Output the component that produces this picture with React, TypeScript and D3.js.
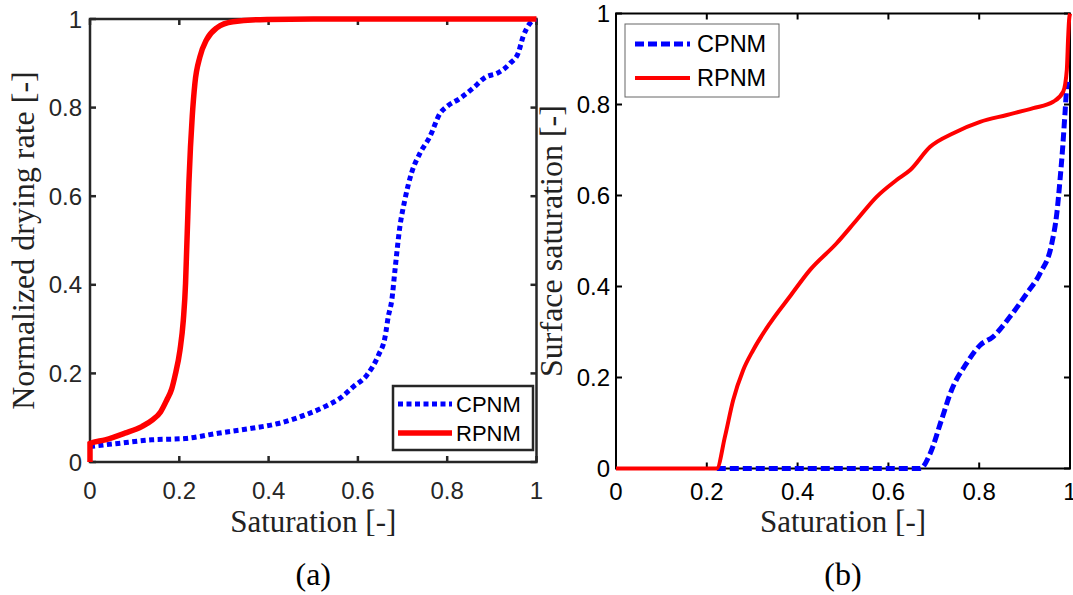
import React from 'react';
import * as d3 from 'd3';

// tick values shared by both panels
const tickValues = [0, 0.2, 0.4, 0.6, 0.8, 1];
const tickLabels = ['0', '0.2', '0.4', '0.6', '0.8', '1'];

// (a) normalized drying rate vs saturation
const rateCpnmS = [0, 0.063, 0.138, 0.213, 0.287, 0.362, 0.422, 0.4815, 0.526, 0.56, 0.59, 0.62, 0.646, 0.661, 0.668, 0.676, 0.683, 0.694, 0.705, 0.72, 0.739, 0.761, 0.784, 0.799, 0.829, 0.858, 0.888, 0.911, 0.941, 0.959, 0.97, 0.985, 1];
const rateCpnmV = [0.035, 0.042, 0.05, 0.053, 0.065, 0.076, 0.087, 0.106, 0.125, 0.144, 0.17, 0.196, 0.241, 0.283, 0.328, 0.366, 0.433, 0.531, 0.591, 0.652, 0.697, 0.734, 0.787, 0.802, 0.821, 0.844, 0.87, 0.877, 0.9, 0.923, 0.96, 0.99, 1];
const rateRpnmS = [0, 0, 0.034, 0.078, 0.116, 0.14, 0.158, 0.172, 0.183, 0.19, 0.2016, 0.209, 0.214, 0.2165, 0.219, 0.2215, 0.225, 0.229, 0.235, 0.246, 0.261, 0.284, 0.32, 0.396, 0.5, 0.7, 1];
const rateRpnmV = [0, 0.042, 0.05, 0.065, 0.08, 0.095, 0.113, 0.14, 0.165, 0.193, 0.253, 0.32, 0.403, 0.479, 0.554, 0.63, 0.71, 0.78, 0.855, 0.914, 0.953, 0.98, 0.994, 0.999, 1, 1, 1];

// (b) surface saturation vs saturation
const surfCpnmS = [0.222, 0.67, 0.692, 0.717, 0.739, 0.772, 0.802, 0.831, 0.868, 0.905, 0.934, 0.96, 0.971, 0.978, 0.984, 0.989, 0.993, 0.995];
const surfCpnmV = [0, 0, 0.033, 0.107, 0.172, 0.231, 0.271, 0.29, 0.334, 0.385, 0.429, 0.495, 0.561, 0.634, 0.707, 0.781, 0.839, 0.85];
const surfRpnmS = [0, 0.207, 0.222, 0.24, 0.258, 0.28, 0.302, 0.339, 0.383, 0.427, 0.486, 0.53, 0.574, 0.618, 0.648, 0.692, 0.743, 0.802, 0.861, 0.919, 0.963, 0.985, 0.993, 0.996, 0.998, 1];
const surfRpnmV = [0, 0, 0, 0.07, 0.15, 0.216, 0.26, 0.319, 0.378, 0.436, 0.495, 0.546, 0.597, 0.634, 0.656, 0.707, 0.737, 0.762, 0.777, 0.792, 0.806, 0.828, 0.876, 0.949, 0.986, 1];

const SANS = '"Liberation Sans", Arial, sans-serif';
const SERIF = '"Liberation Serif", "Times New Roman", serif';
const BLUE = '#0000ff';
const RED = '#ff0000';

const zip = (s, v) => s.map((d, i) => [d, v[i]]);

const Panel = (props) => {
    const { left, right, top, bottom, axisColor, axisWidth, series, yLabel, yLabelX, tickLabelGap, xTickBase, legend, caption } = props;
    const x = d3.scaleLinear().domain([0, 1]).range([left, right]);
    const y = d3.scaleLinear().domain([0, 1]).range([bottom, top]);
    const path = d3.line().x((d) => x(d[0])).y((d) => y(d[1])).curve(d3.curveMonotoneX);
    const tl = 6;
    const cx = (left + right) / 2;

    return (
        <g>
            <rect x={left} y={top} width={right - left} height={bottom - top} fill='none' stroke={axisColor} strokeWidth={axisWidth} />
            {tickValues.map((t, i) => (
                <g key={'t' + i}>
                    <line x1={x(t)} x2={x(t)} y1={bottom} y2={bottom - tl} stroke={axisColor} strokeWidth={axisWidth} />
                    <line x1={x(t)} x2={x(t)} y1={top} y2={top + tl} stroke={axisColor} strokeWidth={axisWidth} />
                    <line x1={left} x2={left + tl} y1={y(t)} y2={y(t)} stroke={axisColor} strokeWidth={axisWidth} />
                    <line x1={right} x2={right - tl} y1={y(t)} y2={y(t)} stroke={axisColor} strokeWidth={axisWidth} />
                    <text x={x(t)} y={xTickBase} textAnchor='middle' fontFamily={SANS} fontSize={24} fill={axisColor}>{tickLabels[i]}</text>
                    <text x={left - tickLabelGap} y={y(t)} dy='0.36em' textAnchor='end' fontFamily={SANS} fontSize={24} fill={axisColor}>{tickLabels[i]}</text>
                </g>
            ))}
            {series.map((s, i) => (
                <path key={'s' + i} d={path(zip(s.xs, s.vs))} fill='none' stroke={s.color} strokeWidth={s.width} strokeDasharray={s.dash} />
            ))}
            <rect x={legend.x} y={legend.y} width={legend.w} height={legend.h} fill='white' stroke={legend.border} strokeWidth={legend.borderWidth} />
            {series.map((s, i) => {
                const ly = legend.rows[i];
                return (
                    <g key={'l' + i}>
                        <line x1={legend.lx0} x2={legend.lx1} y1={ly} y2={ly} stroke={s.color} strokeWidth={s.width} strokeDasharray={s.dash} />
                        <text x={legend.tx} y={ly} dy='0.36em' fontFamily={SANS} fontSize={legend.fontSize} fill='#000'>{s.name}</text>
                    </g>
                );
            })}
            <text transform={`translate(${yLabelX},${(top + bottom) / 2}) rotate(-90)`} textAnchor='middle' fontFamily={SERIF} fontSize={32} fill='#222'>{yLabel}</text>
            <text x={cx} y={532} textAnchor='middle' fontFamily={SERIF} fontSize={31} fill='#222'>Saturation [-]</text>
            <text x={cx} y={585} textAnchor='middle' fontFamily={SERIF} fontSize={32} fill='#000'>{caption}</text>
        </g>
    );
};

export default function App() {
    return (
        <svg width={1073} height={595} style={{ position: 'absolute', left: 0, top: 0, background: 'white' }}>
            <Panel
                left={90} right={536.5} top={19} bottom={462}
                axisColor='#262626' axisWidth={2.5}
                tickLabelGap={8} xTickBase={499}
                yLabel='Normalized drying rate [-]' yLabelX={34}
                caption='(a)'
                series={[
                    { name: 'CPNM', xs: rateCpnmS, vs: rateCpnmV, color: BLUE, width: 5, dash: '5 3.5' },
                    { name: 'RPNM', xs: rateRpnmS, vs: rateRpnmV, color: RED, width: 5.5, dash: null }
                ]}
                legend={{ x: 393, y: 386, w: 140, h: 64, border: '#262626', borderWidth: 2.5, lx0: 398, lx1: 452, tx: 456, rows: [404, 433], fontSize: 22 }}
            />
            <Panel
                left={616} right={1070} top={13.5} bottom={468.5}
                axisColor='#000' axisWidth={2}
                tickLabelGap={6} xTickBase={500}
                yLabel='Surface saturation [-]' yLabelX={562}
                caption='(b)'
                series={[
                    { name: 'CPNM', xs: surfCpnmS, vs: surfCpnmV, color: BLUE, width: 5, dash: '9 4' },
                    { name: 'RPNM', xs: surfRpnmS, vs: surfRpnmV, color: RED, width: 4, dash: null }
                ]}
                legend={{ x: 625, y: 24, w: 154, h: 73, border: '#666', borderWidth: 1, lx0: 635, lx1: 690, tx: 697, rows: [44, 78], fontSize: 23.5 }}
            />
        </svg>
    );
}
